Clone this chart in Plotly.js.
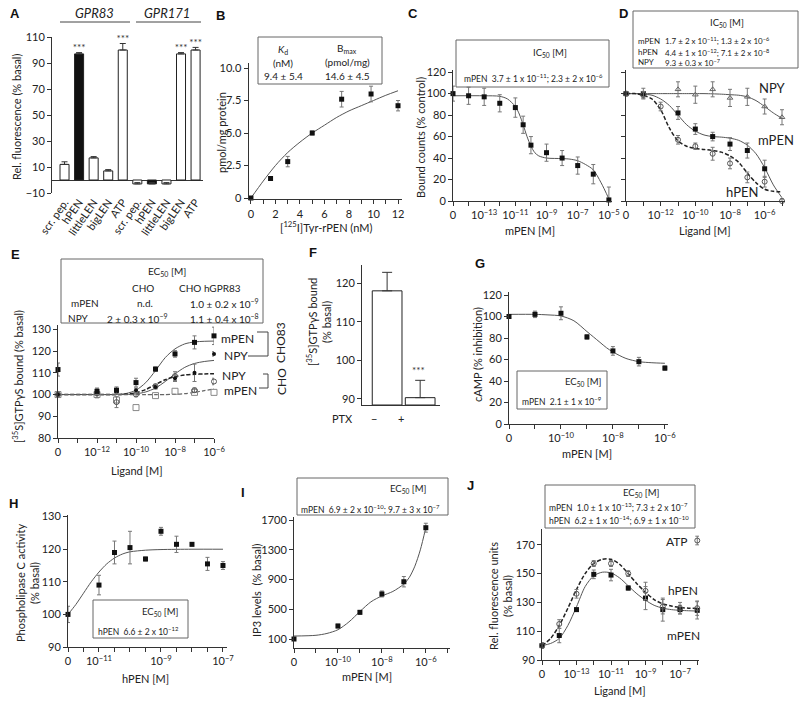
<!DOCTYPE html>
<html><head><meta charset="utf-8">
<script src="https://cdn.plot.ly/plotly-3.0.1.min.js"></script>
<style>html,body{margin:0;padding:0;background:#fff}#chart{width:800px;height:705px}</style>
</head><body><div id="chart"></div>
<script>
// ---------- DATA ----------
// A
const catsA = ["scr. pep.","hPEN","littleLEN","bigLEN","ATP","scr. pep.","hPEN","littleLEN","bigLEN","ATP"];
const valsA = [12, 97, 17, 7, 100, -3, -3, -3, 97, 100];
const errA  = [2, 1, 1, 1, 5, 1, 1, 1, 1, 2];
const starsA = [1, 4, 8, 9];
// B
const concB = [0, 1.6, 3, 5, 7.4, 9.8, 12];
const valsB = [0, 1.5, 2.8, 5.0, 7.6, 8.0, 7.1];
const errB  = [0.1, 0.15, 0.4, 0.15, 0.6, 0.6, 0.4];
const fitXB = [0,1,2,3,4,5,6,7,8,9,10,11,12];
const fitYB = [0,1.3,2.5,3.5,4.3,5.0,5.6,6.2,6.7,7.1,7.5,7.9,8.25];
// C (log10 molar; lowest = "0")
const logC  = [-15,-14,-13,-12,-11,-10.5,-10,-9,-8,-7,-6,-5];
const valsC = [100, 98, 97, 91, 87, 71, 52, 45, 40, 33, 25, 1];
const errC  = [7, 8, 8, 8, 9, 8, 8, 8, 7, 8, 9, 12];
const fitXC = [-15,-13,-12,-11.5,-11,-10.75,-10.5,-10.25,-10,-9.75,-9.5,-9,-8,-7.5,-7,-6.5,-6,-5.5,-5];
const fitYC = [98,98,97.5,95,88,81,71,60,51,45,42,40,39.5,39,37.5,34,29,17,2];
// D
const logDm = [-14,-13,-11,-10,-9,-8,-7,-6];
const valsDm = [100, 100, 82, 67, 60, 53, 47, 30];
const errDm  = [2, 5, 6, 5, 4, 6, 7, 8];
const logDh = [-14,-13,-12,-11,-10,-9,-8,-7,-6,-5];
const valsDh = [100, 99, 88, 57, 51, 44, 35, 22, 18, 0];
const errDh  = [2, 3, 4, 4, 3, 6, 5, 5, 5, 2];
const logDn = [-14,-13,-11,-10,-9,-8,-7,-6,-5];
const valsDn = [100, 99, 104, 99, 104, 96, 97, 88, 78];
const errDn  = [2, 3, 7, 8, 7, 8, 8, 7, 7];
const fitXD = [-14,-13.5,-13,-12.5,-12,-11.5,-11,-10.5,-10,-9.5,-9,-8.5,-8,-7.5,-7,-6.5,-6,-5.5,-5];
const fitDm = [100,100,99.5,98.5,95,89,80,71,65,61.5,60,59.5,58.5,56.5,52,44,31,15,3];
const fitDh = [100,100,98.5,95,85,68,56,51,49,48,47,45.5,42,36,26,17,11,9,8.5];
const fitDn = [100,100,100,100,100,100,100,100,100,100,99.8,99.5,99,98.5,97,93.5,88,82,77];
// E
const logE = [-14,-12,-11,-10,-9,-8,-7,-6];
const valsEm83 = [111.5, 101.5, 102, 105.5, 111.7, 118.7, 124, 127];
const errEm83  = [3, 1.5, 1.5, 2, 1, 1.5, 3, 4];
const valsEn83 = [100, 100.5, 101, 102, 103.5, 107.5, 110, 118.7];
const errEn83  = [1, 1, 1, 1, 1, 1.5, 4, 1];
const valsEnC  = [100, 100.5, 96.5, 100, 103.8, 108.5, 102, 106];
const errEnC   = [1, 2, 2.5, 1, 1, 2, 1, 1.5];
const valsEmC  = [100, 100, 97.5, 94, 99.5, 101.5, 101, 101];
const fitXE  = [-14,-12,-11,-10.5,-10,-9.5,-9,-8.5,-8,-7.5,-7,-6.5,-6];
const fitEm83 = [100,100,100,100.5,102,105.5,111,117,121,123.3,124.2,124.5,124.6];
const fitEn83 = [100,100,100,100,100.3,101.2,103,106,109.5,112.5,114.3,115.2,115.7];
const fitEnC  = [100,100,100,100.2,100.8,102.3,104.6,106.8,108.2,109,109.3,109.5,109.6];
const fitEmC  = [100,100,100,100,100,100,100,100,100.1,100.4,101,101.8,102.6];
// F
const catsF = ["−", "+"];
const valsF = [118, 90.3];
const errF  = [4.8, 4.5];
// G
const logG  = [-12,-11,-10,-9,-8,-7,-6];
const valsG = [100, 102, 103, 81, 68, 58, 52];
const errG  = [1, 3, 6, 2, 4, 4, 2];
const fitXG = [-12,-11,-10.5,-10,-9.5,-9,-8.75,-8.5,-8.25,-8,-7.5,-7,-6.5,-6];
const fitYG = [102,102,101.5,100.5,96,86,81,76,71,67,61,58,57,56.5];
// H
const logH  = [-12,-11,-10.5,-10,-9.5,-9,-8.5,-8,-7.5,-7];
const valsH = [100, 109, 119, 120.5, 117, 125.5, 121.5, 121.5, 115.5, 115];
const errH  = [2.5, 3, 3.5, 5, 0.6, 1.2, 2.5, 0.5, 2, 1.2];
const fitXH = [-12,-11.75,-11.5,-11.25,-11,-10.75,-10.5,-10.25,-10,-9.5,-9,-8,-7];
const fitYH = [100,103,106.5,110,113,115.5,117.3,118.5,119.2,119.7,119.9,120,120];
// I
const logI  = [-12,-10,-9,-8,-7,-6];
const valsI = [100, 275, 459, 706, 871, 1598];
const errI  = [20, 25, 25, 40, 70, 60];
const fitXI = [-12,-11,-10.5,-10,-9.5,-9,-8.5,-8,-7.5,-7,-6.75,-6.5,-6.25,-6];
const fitYI = [140,150,175,225,330,470,600,680,740,840,930,1080,1300,1600];
// J
const logJ   = [-15,-14,-13,-12,-11,-10,-9,-8,-7,-6];
const valsJm = [100, 107, 125, 149.5, 149, 140, 133, 125, 125, 124.5];
const errJm  = [2, 5, 1, 3, 4, 1.5, 8, 8, 3, 6];
const valsJh = [100, 115, 136, 157, 157, 150, 138, 127, 126, 126];
const errJh  = [2, 3, 3, 2, 2, 2, 6, 5, 4, 5];
const logJatp = [-6], valsJatp = [173], errJatp = [3];
const fitXJ = [-15,-14.5,-14,-13.5,-13,-12.5,-12,-11.5,-11,-10.5,-10,-9.5,-9,-8.5,-8,-7.5,-7,-6.5,-6];
const fitJm = [100,101.5,105,114,127,141,148.5,151,150.5,147,141.5,136,131.5,128,126,125,124.5,124.2,124];
const fitJh = [100,105,114,126,139,150,157,160,160,156.5,150,143,137,132,129,127.5,126.5,126,125.8];

// ---------- HELPERS ----------
const W = 800, H = 705;
const X = p => p / W, Y = p => 1 - p / H;
const FONT = 'Lato, "Open Sans", sans-serif';
const INK = '#222', AX = '#333', ERR = '#777';
const DASH = '4px,2px';
const data = [];
const layout = {
  width: W, height: H, margin: {l:0, r:0, t:0, b:0},
  paper_bgcolor: '#fff', plot_bgcolor: 'rgba(0,0,0,0)', showlegend: false,
  font: {family: FONT, size: 11, color: INK},
  annotations: [], shapes: []
};
const sfx = i => (i === 1 ? '' : String(i));
function axes(i, xpx, ypx, xr, yr, xo, yo) {
  const s = sfx(i);
  const base = {showline: true, linecolor: AX, linewidth: 1, ticks: 'outside', ticklen: 4,
    tickcolor: AX, showgrid: false, zeroline: false, fixedrange: true,
    tickfont: {family: FONT, size: 11, color: INK}};
  layout['xaxis' + s] = Object.assign({}, base, {domain: [X(xpx[0]), X(xpx[1])], range: xr, anchor: 'y' + s}, xo || {});
  layout['yaxis' + s] = Object.assign({}, base, {domain: [Y(ypx[1]), Y(ypx[0])], range: yr, anchor: 'x' + s}, yo || {});
}
function add(i, t) { const s = sfx(i); t.xaxis = 'x' + s; t.yaxis = 'y' + s; if (t.cliponaxis === undefined) t.cliponaxis = false; t.hoverinfo = 'skip'; data.push(t); }
function curve(i, xs, ys, o) {
  o = o || {};
  add(i, {type: 'scatter', mode: 'lines', x: xs, y: ys,
    line: {shape: 'spline', smoothing: 0.8, color: o.color || '#555', width: o.width || 1, dash: o.dash || 'solid'}});
}
function pts(i, xs, ys, err, marker) {
  add(i, {type: 'scatter', mode: 'markers', x: xs, y: ys, marker: marker,
    error_y: {type: 'data', array: err, visible: !!err, color: ERR, thickness: 1, width: 2}});
}
const SQ = {symbol: 'square', size: 5, color: '#111'};
const CIRC = {symbol: 'circle-open', size: 5, color: '#555', line: {width: 1, color: '#555'}};
const DOT = {symbol: 'circle', size: 4, color: '#111'};
const OSQ = {symbol: 'square-open', size: 6, color: '#888', line: {width: 1, color: '#888'}};
function txt(x, y, text, o) {
  layout.annotations.push(Object.assign({xref: 'paper', yref: 'paper', x: X(x), y: Y(y), text: text,
    showarrow: false, xanchor: 'center', yanchor: 'middle', font: {family: FONT, size: 11, color: INK}}, o || {}));
}
function small(x, y, text, o) { txt(x, y, text, Object.assign({font: {family: FONT, size: 8.5, color: INK}}, o || {})); }
function box(x0, y0, x1, y1) {
  layout.shapes.push({type: 'rect', xref: 'paper', yref: 'paper', x0: X(x0), x1: X(x1), y0: Y(y1), y1: Y(y0),
    line: {color: '#666', width: 1}, fillcolor: 'rgba(255,255,255,0)'});
}
function seg(x0, y0, x1, y1, c) {
  layout.shapes.push({type: 'line', xref: 'paper', yref: 'paper', x0: X(x0), x1: X(x1), y0: Y(y0), y1: Y(y1),
    line: {color: c || '#444', width: 1}});
}
function letter(x, y, t) { txt(x, y, '<b>' + t + '</b>', {font: {family: '"Liberation Sans", Arial, sans-serif', size: 13, color: '#111'}}); }
const sup = n => '10<sup>−' + n + '</sup>';
function logTicks(lo, hi, labelled) {
  const v = [], t = [];
  for (let k = lo; k <= hi; k++) { v.push(k); t.push(k === lo ? '0' : (labelled.indexOf(k) >= 0 ? sup(-k) : '')); }
  return {tickmode: 'array', tickvals: v, ticktext: t};
}

// ---------- A ----------
const idxA = catsA.map((c, k) => k);
axes(1, [52, 203], [37, 193], [-0.86, 9.51], [-10, 110],
  {showline: false, ticks: '', tickmode: 'array', tickvals: idxA, ticktext: catsA, tickangle: -55, tickfont: {family: FONT, size: 11, color: INK}},
  {tickmode: 'array', tickvals: [-10, 10, 30, 50, 70, 90, 110], zeroline: true, zerolinecolor: AX, zerolinewidth: 1});
add(1, {type: 'bar', x: idxA, y: valsA, width: 0.62,
  marker: {color: valsA.map((v, k) => (k === 1 || k === 6) ? '#111' : '#fff'), line: {color: '#222', width: 1}},
  error_y: {type: 'data', symmetric: false, array: errA, arrayminus: errA.map(() => 0), color: '#333', thickness: 1, width: 3}});
add(1, {type: 'scatter', mode: 'text', x: starsA, y: starsA.map(k => valsA[k] + errA[k] + 3), text: starsA.map(() => '***'),
  textfont: {family: FONT, size: 10, color: '#333'}});
txt(94, 13, '<i>GPR83</i>', {font: {family: FONT, size: 13, color: INK}});
txt(167, 13, '<i>GPR171</i>', {font: {family: FONT, size: 13, color: INK}});
seg(60, 22, 130, 22); seg(136, 22, 201, 22);
txt(16, 117, 'Rel. fluorescence (% basal)', {textangle: -90});
letter(15, 13, 'A');

// ---------- B ----------
axes(2, [248.5, 401.7], [62.8, 199.3], [-0.2, 12.3], [-0.1, 10.4],
  {tickmode: 'array', tickvals: [0,1,2,3,4,5,6,7,8,9,10,11,12], ticktext: ['0','','2','','4','','6','','8','','10','','12']},
  {tickmode: 'array', tickvals: [0, 2.5, 5, 7.5, 10], ticktext: ['0', '2.5', '5.0', '7.5', '10.0']});
curve(2, fitXB, fitYB);
pts(2, concB, valsB, errB, SQ);
box(258, 37, 382, 84);
const bf = {font: {family: FONT, size: 10, color: INK}};
small(283, 50, '<i>K</i><sub>d</sub>', bf);
small(283, 63, '(nM)', bf);
small(283, 76, '9.4 ± 5.4', bf);
small(347, 49, 'B<sub>max</sub>', bf);
small(347, 62, '(pmol/mg)', bf);
small(347, 76, '14.6 ± 4.5', bf);
txt(222, 133, 'pmol/mg protein', {textangle: -90});
txt(326, 226, '[<sup>125</sup>I]Tyr-rPEN (nM)');
letter(220, 15, 'B');

// ---------- C ----------
axes(3, [453, 612], [70, 201], [-15, -4.8], [0, 122],
  logTicks(-15, -5, [-13, -11, -9, -7, -5]),
  {tickmode: 'array', tickvals: [0, 20, 40, 60, 80, 100, 120]});
curve(3, fitXC, fitYC);
pts(3, logC, valsC, errC, SQ);
box(456, 40, 609, 87);
small(550, 53, 'IC<sub>50</sub> [M]', {font: {family: FONT, size: 9.5, color: INK}});
small(462, 78, 'mPEN  3.7 ± 1 x 10<sup>−11</sup>; 2.3 ± 2 x 10<sup>−6</sup>', {xanchor: 'left'});
txt(420, 138, 'Bound counts (% control)', {textangle: -90});
txt(530, 230, 'mPEN [M]');
letter(413, 13, 'C');

// ---------- D ----------
axes(4, [626, 784.6], [70, 201], [-14, -4.85], [0, 122],
  logTicks(-14, -5, [-12, -10, -8, -6]),
  {tickmode: 'array', tickvals: [0, 20, 40, 60, 80, 100, 120], showticklabels: false});
curve(4, fitXD, fitDn);
curve(4, fitXD, fitDm);
curve(4, fitXD, fitDh, {dash: DASH, color: '#222', width: 1.5});
pts(4, logDn, valsDn, errDn, {symbol: 'triangle-up-open', size: 5, color: '#666', line: {width: 1, color: '#666'}});
pts(4, logDm, valsDm, errDm, SQ);
pts(4, logDh, valsDh, errDh, CIRC);
box(633, 11, 798, 68);
const df = {xanchor: 'left', font: {family: FONT, size: 8, color: INK}};
small(727, 23, 'IC<sub>50</sub> [M]', {font: {family: FONT, size: 9.5, color: INK}});
small(636, 41, 'mPEN', df);
small(636, 52, 'hPEN', df);
small(636, 62, 'NPY', df);
small(663, 41, '1.7 ± 2 x 10<sup>−11</sup>; 1.3 ± 2 x 10<sup>−6</sup>', df);
small(663, 52, '4.4 ± 1 x 10<sup>−12</sup>; 7.1 ± 2 x 10<sup>−8</sup>', df);
small(663, 62, '9.3 ± 0.3 x 10<sup>−7</sup>', df);
txt(772, 88, 'NPY', {font: {family: FONT, size: 13, color: INK}});
txt(776, 140, 'mPEN', {font: {family: FONT, size: 13, color: INK}});
txt(742, 192, 'hPEN', {font: {family: FONT, size: 13, color: INK}});
txt(705, 230, 'Ligand [M]');
letter(623, 13, 'D');

// ---------- E ----------
axes(5, [58, 214], [325, 438], [-14, -6], [80, 132],
  logTicks(-14, -6, [-12, -10, -8, -6]),
  {tickmode: 'array', tickvals: [80, 90, 100, 110, 120, 130]});
curve(5, fitXE, fitEm83);
curve(5, fitXE, fitEn83);
curve(5, fitXE, fitEnC, {dash: DASH, color: '#222', width: 1.5});
curve(5, fitXE, fitEmC, {dash: DASH, color: '#666', width: 1.2});
pts(5, logE, valsEmC, null, OSQ);
pts(5, logE, valsEnC, errEnC, CIRC);
pts(5, logE, valsEn83, errEn83, DOT);
pts(5, logE, valsEm83, errEm83, SQ);
box(61, 259, 263, 323);
const ef = {font: {family: FONT, size: 10, color: INK}};
small(167, 271, 'EC<sub>50</sub> [M]', ef);
small(143, 288, 'CHO', ef);
small(210, 288, 'CHO hGPR83', ef);
small(85, 303, 'mPEN', ef);
small(145, 303, 'n.d.', ef);
small(261, 303, '1.0 ± 0.2 x 10<sup>−9</sup>', Object.assign({xanchor: 'right'}, ef));
small(78, 318, 'NPY', ef);
small(137, 318, '2 ± 0.3 x 10<sup>−9</sup>', ef);
small(261, 318, '1.1 ± 0.4 x 10<sup>−8</sup>', Object.assign({xanchor: 'right'}, ef));
const lf = {xanchor: 'left', font: {family: FONT, size: 12, color: INK}};
txt(219, 338, 'mPEN', lf);
txt(222, 356, 'NPY', lf);
txt(220, 375, 'NPY', lf);
txt(222, 390, 'mPEN', lf);
seg(257, 332, 268, 332); seg(268, 332, 268, 356); seg(248, 356, 268, 356);
seg(263, 374, 268, 374); seg(268, 374, 268, 388); seg(259, 388, 268, 388);
txt(281, 343, 'CHO83', {textangle: -90, font: {family: FONT, size: 12, color: INK}});
txt(281, 382, 'CHO', {textangle: -90, font: {family: FONT, size: 12, color: INK}});
txt(17, 377, '[<sup>35</sup>S]GTPγS bound (% basal)', {textangle: -90});
txt(137, 470, 'Ligand [M]');
letter(15, 255, 'E');

// ---------- F ----------
const baseF = 88.4;
axes(6, [362, 440], [265, 405], [-0.76, 1.6], [baseF, 124.7],
  {showticklabels: false, ticks: ''},
  {tickmode: 'array', tickvals: [90, 100, 110, 120]});
add(6, {type: 'bar', x: [0, 1], y: valsF.map(v => v - baseF), base: baseF, width: 0.9, cliponaxis: true,
  marker: {color: '#fff', line: {color: '#222', width: 1}},
  error_y: {type: 'data', symmetric: false, array: errF, arrayminus: [0, 0], color: '#333', thickness: 1, width: 5}});
txt(418, 370, '***', {font: {family: FONT, size: 10, color: '#333'}});
txt(342, 418, 'PTX');
txt(374, 418, catsF[0]);
txt(401, 418, catsF[1]);
txt(318, 322, '[<sup>35</sup>S]GTPγS bound<br>(% basal)', {textangle: -90});
letter(313, 253, 'F');

// ---------- G ----------
axes(7, [509, 668], [292, 424], [-12, -5.88], [0, 122.8],
  logTicks(-12, -6, [-10, -8, -6]),
  {tickmode: 'array', tickvals: [0, 20, 40, 60, 80, 100, 120]});
curve(7, fitXG, fitYG);
pts(7, logG, valsG, errG, SQ);
box(517, 371, 607, 409);
small(583, 382, 'EC<sub>50</sub> [M]', {font: {family: FONT, size: 9.5, color: INK}});
small(520, 401, 'mPEN  2.1 ± 1 x 10<sup>−9</sup>', {xanchor: 'left'});
txt(478, 355, 'cAMP (% inhibition)', {textangle: -90});
txt(587, 453, 'mPEN [M]');
letter(480, 263, 'G');

// ---------- H ----------
axes(8, [68, 227], [515, 647], [-12, -6.87], [90, 130.5],
  {tickmode: 'array', tickvals: [-12,-11.5,-11,-10.5,-10,-9.5,-9,-8.5,-8,-7.5,-7],
   ticktext: ['0','',sup(11),'','','',sup(9),'','','',sup(7)]},
  {tickmode: 'array', tickvals: [90, 100, 110, 120, 130]});
curve(8, fitXH, fitYH);
pts(8, logH, valsH, errH, SQ);
box(93, 600, 188, 638);
small(160, 612, 'EC<sub>50</sub> [M]', {font: {family: FONT, size: 9.5, color: INK}});
small(96, 631, 'hPEN  6.6 ± 2 x 10<sup>−12</sup>', {xanchor: 'left'});
txt(27, 583, 'Phospholipase C activity<br>(% basal)', {textangle: -90});
txt(145, 678, 'hPEN [M]');
letter(13, 503, 'H');

// ---------- I ----------
axes(9, [294, 450], [517, 648], [-12, -4.9], [-21, 1742],
  logTicks(-12, -5, [-10, -8, -6]),
  {tickmode: 'array', tickvals: [100, 500, 900, 1300, 1700]});
curve(9, fitXI, fitYI);
pts(9, logI, valsI, errI, SQ);
box(297, 478, 448, 515);
small(408, 489, 'EC<sub>50</sub> [M]', {font: {family: FONT, size: 9.5, color: INK}});
small(299, 509, 'mPEN  6.9 ± 2 x 10<sup>−10</sup>; 9.7 ± 3 x 10<sup>−7</sup>', {xanchor: 'left'});
txt(256, 590, 'IP3 levels  (% basal)', {textangle: -90});
txt(367, 676, 'mPEN [M]');
letter(243, 492, 'I');

// ---------- J ----------
axes(10, [542, 699], [529, 660], [-15, -5.9], [90, 181],
  logTicks(-15, -6, [-13, -11, -9, -7]),
  {tickmode: 'array', tickvals: [90, 110, 130, 150, 170]});
curve(10, fitXJ, fitJm);
curve(10, fitXJ, fitJh, {dash: DASH, color: '#222', width: 1.5});
pts(10, logJ, valsJm, errJm, SQ);
pts(10, logJ, valsJh, errJh, CIRC);
pts(10, logJatp, valsJatp, errJatp, CIRC);
box(545, 485, 695, 528);
small(641, 493, 'EC<sub>50</sub> [M]', {font: {family: FONT, size: 9.5, color: INK}});
small(547, 507, 'mPEN  1.0 ± 1 x 10<sup>−13</sup>; 7.3 ± 2 x 10<sup>−7</sup>', {xanchor: 'left'});
small(547, 520, 'hPEN  6.2 ± 1 x 10<sup>−14</sup>; 6.9 ± 1 x 10<sup>−10</sup>', {xanchor: 'left'});
txt(677, 541, 'ATP', {font: {family: FONT, size: 12, color: INK}});
txt(683, 590, 'hPEN', {font: {family: FONT, size: 12, color: INK}});
txt(683, 635, 'mPEN', {font: {family: FONT, size: 12, color: INK}});
txt(500, 596, 'Rel. fluorescence units<br>(% basal)', {textangle: -90});
txt(620, 690, 'Ligand [M]');
letter(470, 485, 'J');

Plotly.newPlot('chart', data, layout, {staticPlot: true, displayModeBar: false});
</script></body></html>
